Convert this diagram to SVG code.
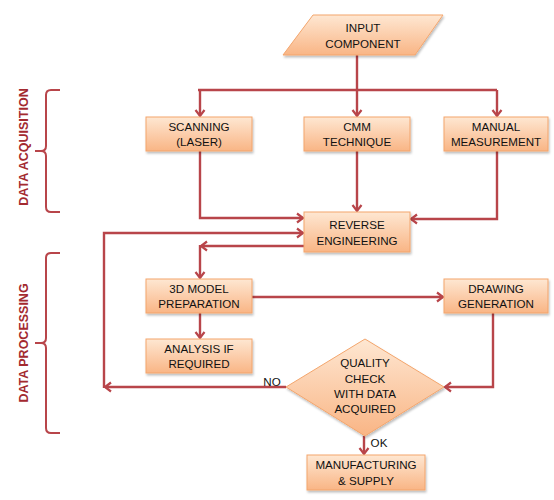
<svg xmlns="http://www.w3.org/2000/svg" width="554" height="500" viewBox="0 0 554 500">
<style>
.box{fill:url(#g);stroke:#f3a56c;stroke-width:1;filter:url(#sh)}
.t{font-family:"Liberation Sans",Arial,sans-serif;font-size:11.6px;fill:#111;text-anchor:middle}
.c{fill:none;stroke:#b8454a;stroke-width:2.4;stroke-linejoin:miter}
.br{fill:none;stroke:#b8454a;stroke-width:2}
.side{font-family:"Liberation Sans",Arial,sans-serif;font-size:12.5px;font-weight:bold;fill:#a32a30;text-anchor:middle}
</style>
<defs>
<linearGradient id="g" x1="0" y1="0" x2="0" y2="1">
<stop offset="0" stop-color="#fee7d2"/>
<stop offset="1" stop-color="#f9b585"/>
</linearGradient>
<filter id="sh" x="-10%" y="-10%" width="130%" height="140%">
<feDropShadow dx="1" dy="2" stdDeviation="1.2" flood-color="#000" flood-opacity="0.25"/>
</filter>
<marker id="a" markerWidth="12" markerHeight="12" refX="9" refY="6" orient="auto" markerUnits="userSpaceOnUse">
<polyline points="3,1.5 9,6 3,10.5" fill="none" stroke="#b8454a" stroke-width="2.2"/>
</marker>
</defs>
<rect width="554" height="500" fill="#fff"/>

<g id="side-labels">
<text class="side" transform="translate(28,147) rotate(-90)">DATA ACQUISITION</text>
<path class="br" d="M60,90 H51 Q46,90 46,95 V146 Q46,151 41,151 H35 M41,151 Q46,151 46,156 V207 Q46,212 51,212 H60"/>
<text class="side" transform="translate(28,343) rotate(-90)">DATA PROCESSING</text>
<path class="br" d="M60,253 H51 Q46,253 46,258 V338 Q46,343 41,343 H35 M41,343 Q46,343 46,348 V428 Q46,433 51,433 H60"/>
</g>

<g id="connectors">
<path class="c" d="M357,55 V90"/>
<path class="c" d="M198,90 H497" />
<path class="c" d="M200,90 V116" marker-end="url(#a)"/>
<path class="c" d="M357,90 V116" marker-end="url(#a)"/>
<path class="c" d="M497,90 V116" marker-end="url(#a)"/>
<path class="c" d="M200,151 V218 H303" marker-end="url(#a)"/>
<path class="c" d="M357,151 V211" marker-end="url(#a)"/>
<path class="c" d="M497,151 V219 H411" marker-end="url(#a)"/>
<path class="c" d="M304,246 H201" marker-end="url(#a)"/>
<path class="c" d="M200,245 V278" marker-end="url(#a)"/>
<path class="c" d="M252,297 H443" marker-end="url(#a)"/>
<path class="c" d="M200,313 V338" marker-end="url(#a)"/>
<path class="c" d="M286,387 H105" marker-end="url(#a)"/>
<path class="c" d="M104,388 V233 H303" marker-end="url(#a)"/>
<path class="c" d="M493,313 V387 H445" marker-end="url(#a)"/>
<path class="c" d="M364,436 V454" marker-end="url(#a)"/>
<text class="t" x="272" y="386">NO</text>
<text class="t" x="379" y="447">OK</text>
</g>

<g id="input">
<polygon class="box" points="313,15 443,15 415,55 283,55"/>
<text class="t" x="363" y="32">INPUT</text>
<text class="t" x="363" y="48">COMPONENT</text>
</g>
<g id="scanning">
<rect class="box" x="146" y="117" width="106" height="34"/>
<text class="t" x="199" y="131">SCANNING</text>
<text class="t" x="199" y="146">(LASER)</text>
</g>
<g id="cmm">
<rect class="box" x="304" y="117" width="106" height="34"/>
<text class="t" x="357" y="131">CMM</text>
<text class="t" x="357" y="146">TECHNIQUE</text>
</g>
<g id="manual">
<rect class="box" x="444" y="117" width="104" height="34"/>
<text class="t" x="496" y="131">MANUAL</text>
<text class="t" x="496" y="146">MEASUREMENT</text>
</g>
<g id="reverse">
<rect class="box" x="304" y="212" width="106" height="40"/>
<text class="t" x="357" y="229">REVERSE</text>
<text class="t" x="357" y="245">ENGINEERING</text>
</g>
<g id="model">
<rect class="box" x="146" y="279" width="106" height="34"/>
<text class="t" x="199" y="293">3D MODEL</text>
<text class="t" x="199" y="308">PREPARATION</text>
</g>
<g id="drawing">
<rect class="box" x="444" y="279" width="104" height="34"/>
<text class="t" x="496" y="293">DRAWING</text>
<text class="t" x="496" y="308">GENERATION</text>
</g>
<g id="analysis">
<rect class="box" x="146" y="339" width="106" height="34"/>
<text class="t" x="199" y="353">ANALYSIS IF</text>
<text class="t" x="199" y="368">REQUIRED</text>
</g>
<g id="quality">
<polygon class="box" points="365,339 444,387 365,436 286,387"/>
<text class="t" x="365" y="367">QUALITY</text>
<text class="t" x="365" y="383">CHECK</text>
<text class="t" x="365" y="398">WITH DATA</text>
<text class="t" x="365" y="413">ACQUIRED</text>
</g>
<g id="manufacturing">
<rect class="box" x="307" y="455" width="118" height="35"/>
<text class="t" x="366" y="469">MANUFACTURING</text>
<text class="t" x="366" y="485">&amp; SUPPLY</text>
</g>
</svg>
